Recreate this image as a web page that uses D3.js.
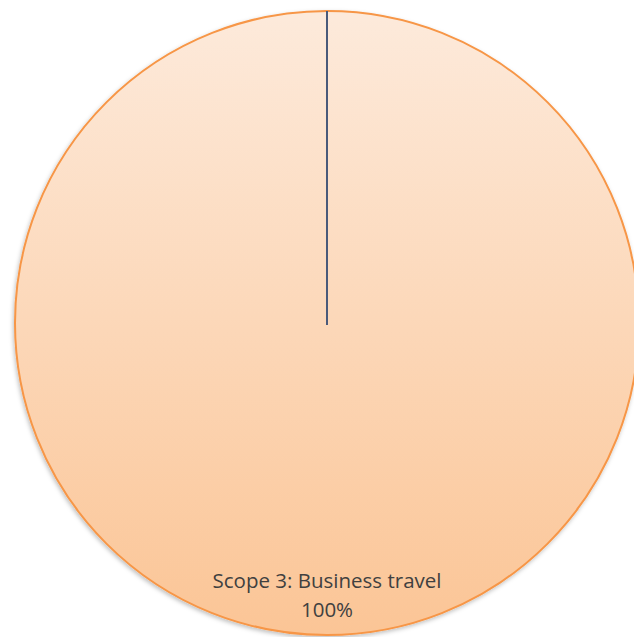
<!DOCTYPE html>
<html>
<head>
<meta charset="utf-8">
<script src="https://cdn.jsdelivr.net/npm/d3@7"></script>
<style>
body{margin:0;background:#fff;}
.lbl{font-family:"Open Sans",sans-serif;font-size:20.5px;fill:#404040;}
</style>
</head>
<body>
<div id="chart"></div>
<script>
var w=634;
var h=637;

var categories=["Scope 3: Business travel"];
var values=[100];
var percentLabels=["100%"];

var cx=327, cy=323, r=312;

var svg=d3.select("#chart")
  .append("svg")
  .attr("width",w)
  .attr("height",h);

var defs=svg.append("defs");
var grad=defs.append("linearGradient")
  .attr("id","fillGrad")
  .attr("x1",0).attr("y1",0).attr("x2",0).attr("y2",1);
grad.append("stop").attr("offset","0%").attr("stop-color","#fdeadb");
grad.append("stop").attr("offset","100%").attr("stop-color","#fbc596");

var shadow=defs.append("filter").attr("id","shadow")
  .attr("x","-10%").attr("y","-10%").attr("width","120%").attr("height","120%");
shadow.append("feDropShadow")
  .attr("dx",-1).attr("dy",2).attr("stdDeviation",2)
  .attr("flood-color","#000").attr("flood-opacity",0.25);

var pie=d3.pie().sort(null).value(function(d){return d;});
var arcs=pie(values);
var arc=d3.arc().innerRadius(0).outerRadius(r);

var g=svg.append("g").attr("transform","translate("+cx+","+cy+")");

g.selectAll("path")
  .data(arcs)
  .enter()
  .append("path")
  .attr("d",arc)
  .attr("fill","url(#fillGrad)")
  .attr("stroke","#f79646")
  .attr("stroke-width",2)
  .attr("filter","url(#shadow)");

// slice boundary line
g.selectAll("line")
  .data(arcs)
  .enter()
  .append("line")
  .attr("x1",0).attr("y1",2)
  .attr("x2",function(d){return r*Math.sin(d.startAngle);})
  .attr("y2",function(d){return -r*Math.cos(d.startAngle);})
  .attr("stroke","#4a5a7a")
  .attr("stroke-width",2);

var t=g.selectAll("text")
  .data(arcs)
  .enter()
  .append("text")
  .attr("class","lbl")
  .attr("text-anchor","middle")
  .attr("x",0)
  .attr("y",265);
t.append("tspan").attr("x",0).text(function(d,i){return categories[i];});
t.append("tspan").attr("x",0).attr("dy",29).text(function(d,i){return percentLabels[i];});
</script>
</body>
</html>
